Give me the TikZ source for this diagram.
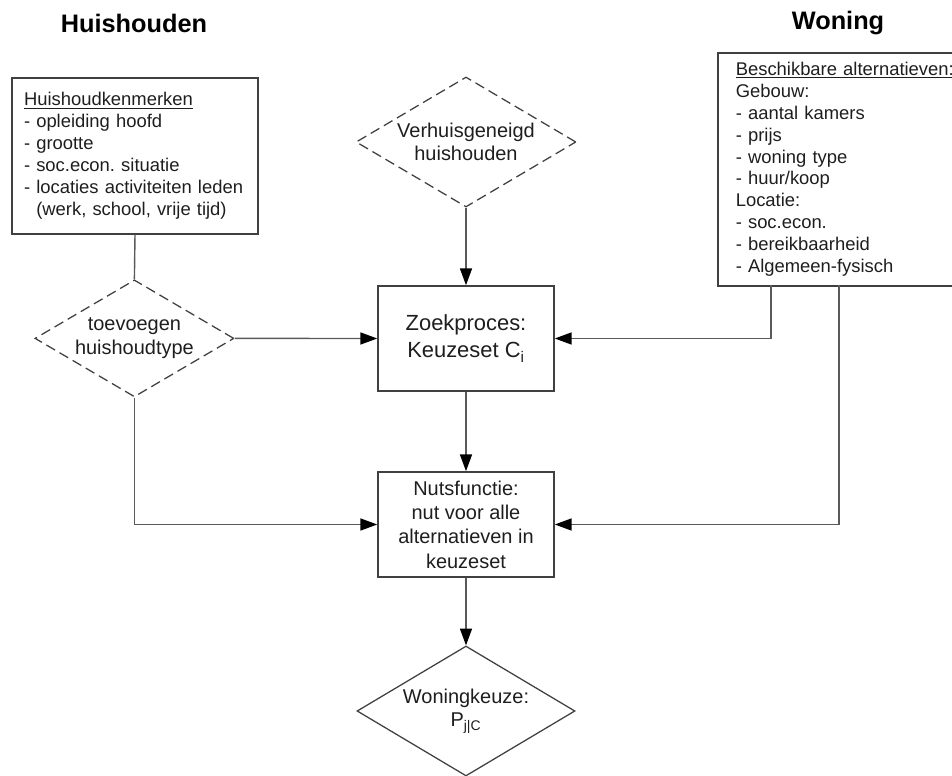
\documentclass[tikz,border=0pt]{standalone}
\usepackage{fontspec}
\setmainfont{Liberation Sans}
\usepackage{tikz}
\usetikzlibrary{arrows.meta, shapes.geometric}
\definecolor{my_text}{HTML}{1E1E1E}
\definecolor{my_line}{HTML}{5A5A5A}
\definecolor{my_frame}{HTML}{404040}
\frenchspacing

\begin{document}
\begin{tikzpicture}[
    kader/.style={rectangle, draw=my_frame, line width=1.1pt, text=my_text},
    lijst/.style={kader, align=left, font=\fontsize{13.1}{15.6}\selectfont, inner xsep=0.3cm, inner ysep=0pt},
    blok/.style={kader, align=center, minimum width=4.4cm, minimum height=2.625cm, inner sep=0pt},
    ruit/.style={diamond, draw=my_frame, line width=0.9pt, text=my_text, align=center, aspect=1.7, inner sep=0pt, font=\fontsize{14.2}{16.8}\selectfont},
    optie/.style={ruit, dash pattern=on 0.25cm off 0.13cm},
    titel/.style={font=\fontsize{18}{22}\selectfont\bfseries, text=black},
    verbinding/.style={draw=my_line, line width=1pt},
    pijl/.style={verbinding, -{Triangle[length=0.42cm, width=0.3cm, color=black]}}
]
\useasboundingbox (0,0) rectangle (23.8,-19.4);

% --- Titels ---
\node[titel] (t_huis)   at (3.35,-0.575)  {Huishouden};
\node[titel] (t_woning) at (20.95,-0.575) {Woning};

% --- Huishouden-kant ---
\node[lijst, text width=5.55cm, minimum height=3.9cm] (kenmerken) at (3.375,-3.9)
    {\underline{Huishoudkenmerken}\\
     - opleiding hoofd\\
     - grootte\\
     - soc.econ. situatie\\
     - locaties activiteiten leden\\
     \hphantom{- }(werk, school, vrije tijd)};

\node[optie, minimum width=4.975cm, minimum height=2.925cm] (toevoegen) at (3.36,-8.46)
    {toevoegen\\huishoudtype};

% --- Middenkolom ---
\node[optie, minimum width=5.5cm, minimum height=3.25cm] (verhuis) at (11.65,-3.55)
    {Verhuisgeneigd\\huishouden};

\node[blok, font=\fontsize{15.6}{19.2}\selectfont] (zoek) at (11.65,-8.4625)
    {Zoekproces:\\Keuzeset C\textsubscript{i}};

\node[blok, font=\fontsize{14.2}{17.3}\selectfont] (nuts) at (11.65,-13.1125)
    {Nutsfunctie:\\nut voor alle\\alternatieven in\\keuzeset};

\node[ruit, minimum width=5.45cm, minimum height=3.25cm] (keuze) at (11.65,-17.775)
    {Woningkeuze:\\P\textsubscript{j|C}};

% --- Woning-kant (loopt over de rechterrand) ---
\node[lijst, anchor=north west, text width=5.725cm, inner xsep=0.45cm, minimum height=5.825cm] (alternatieven) at (17.925,-1.3)
    {\underline{Beschikbare alternatieven:}\\
     Gebouw:\\
     - aantal kamers\\
     - prijs\\
     - woning type\\
     - huur/koop\\
     Locatie:\\
     - soc.econ.\\
     - bereikbaarheid\\
     - Algemeen-fysisch};

% aftakpunten onder de woningbox
\coordinate (alt_a) at (19.275,-7.125);
\coordinate (alt_b) at (20.975,-7.125);

% --- Verbindingen ---
\draw[verbinding] (kenmerken.south) -- (toevoegen.north);
\draw[pijl] (toevoegen.east) -- (zoek.west);
\draw[pijl] (toevoegen.south) |- (nuts.west);
\draw[pijl] (verhuis.south) -- (zoek.north);
\draw[pijl] (zoek.south) -- (nuts.north);
\draw[pijl] (nuts.south) -- (keuze.north);
\draw[pijl] (alt_a) |- (zoek.east);
\draw[pijl] (alt_b) |- (nuts.east);

\end{tikzpicture}
\end{document}
